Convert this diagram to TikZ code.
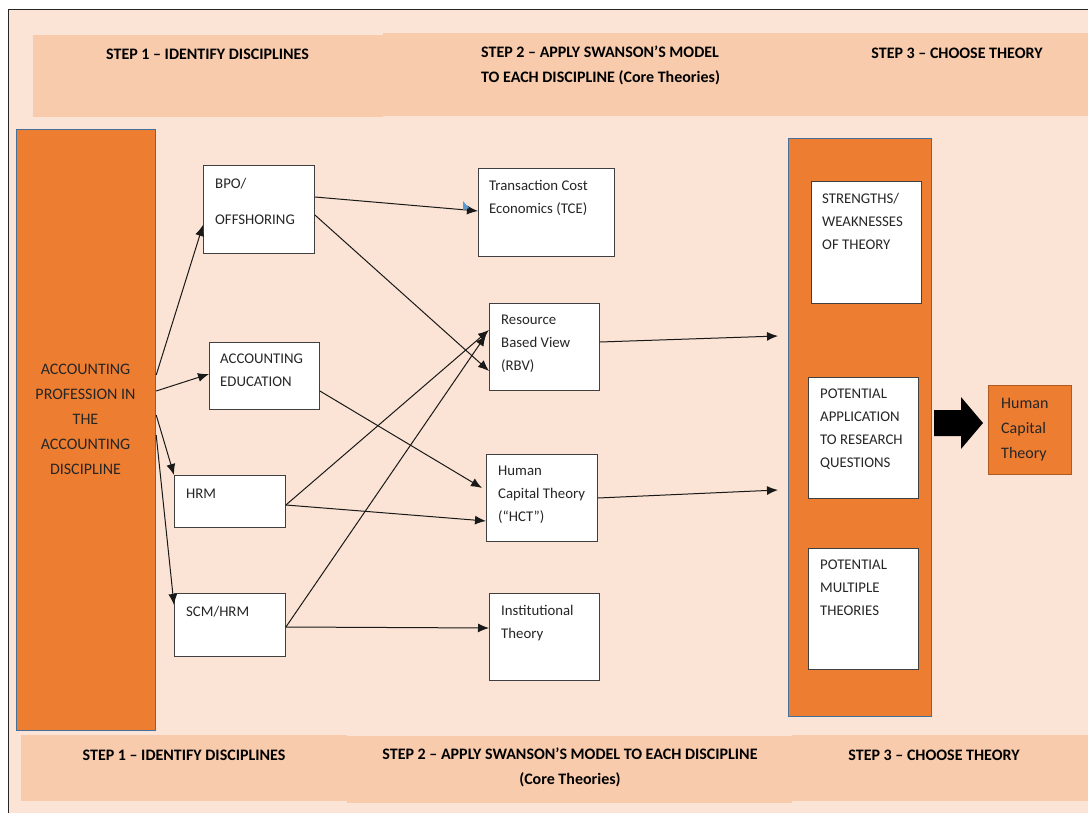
\documentclass[tikz,border=0pt]{standalone}
\usepackage{fontspec}
\setmainfont{Carlito}
\usetikzlibrary{arrows.meta,calc}
\definecolor{pagebg}{HTML}{FBE4D5}
\definecolor{band}{HTML}{F8CBAD}
\definecolor{accorange}{HTML}{ED7D31}
\definecolor{steelblue}{HTML}{41719C}
\definecolor{rust}{HTML}{AE5A21}
\definecolor{boxline}{HTML}{404040}
\definecolor{skyblue}{HTML}{5B9BD5}

\begin{document}
\begin{tikzpicture}[x=1pt,y=-1pt,
  wbox/.style={draw=boxline, line width=0.9pt, fill=white, rectangle, inner sep=0pt, anchor=north west},
  obox/.style={draw=steelblue, line width=1.2pt, fill=accorange, rectangle, inner sep=0pt, anchor=north west},
  txt/.style={font=\fontsize{14.8}{23}\selectfont, text=black!85, align=left, inner sep=0pt, anchor=north west,
    execute at begin node=\rule{0pt}{11pt}},
  bigtxt/.style={font=\fontsize{16}{25}\selectfont, text=black!85, inner sep=0pt, anchor=north,
    execute at begin node=\rule{0pt}{12pt}},
  head/.style={font=\bfseries\fontsize{16}{25}\selectfont, inner sep=0pt, anchor=north,
    execute at begin node=\rule{0pt}{12pt}},
  arr/.style={-{Latex[length=11pt,width=9pt]}, line width=1pt, draw=black!90},
]
\useasboundingbox (0,0) rectangle (1088,813);
\clip (0,0) rectangle (1088,813);

% page frame and step bands
\draw[fill=pagebg, draw=black!85, line width=1pt] (8,10) rectangle (1100,830);
\fill[band] (33,35) rectangle (383,117);
\fill[band] (383,33.5) rectangle (1088,116);
\fill[band] (21,735) rectangle (347,801);
\fill[band] (347,736) rectangle (792,803);
\fill[band] (792,735) rectangle (1088,801);

\node[head] (h1) at (207.5,47) {STEP 1 – IDENTIFY DISCIPLINES};
\node[head, anchor=north west, align=left] (h2) at (481,46)
  {STEP 2 – APPLY SWANSON’S MODEL\\TO EACH DISCIPLINE (Core Theories)};
\node[head] (h3) at (957,46) {STEP 3 – CHOOSE THEORY};

\node[head] (f1) at (184,748) {STEP 1 – IDENTIFY DISCIPLINES};
\node[head, align=center] (f2) at (570,748)
  {STEP 2 – APPLY SWANSON’S MODEL TO EACH DISCIPLINE\\(Core Theories)};
\node[head] (f3) at (934,748) {STEP 3 – CHOOSE THEORY};

% discipline column
\node[obox, minimum width=139pt, minimum height=601pt] (acc) at (16,129) {};
\node[bigtxt, align=center] (acct) at (85.5,364)
  {ACCOUNTING\\PROFESSION IN\\THE\\ACCOUNTING\\DISCIPLINE};

\node[wbox, minimum width=111pt, minimum height=88pt] (bpo) at (203,165) {};
\node[txt] (bpot) at (215,178) {BPO/\\[13pt]OFFSHORING};
\node[wbox, minimum width=110pt, minimum height=67pt] (edu) at (209,342) {};
\node[txt] (edut) at (220,354) {ACCOUNTING\\EDUCATION};
\node[wbox, minimum width=111pt, minimum height=52pt] (hrm) at (174,475) {};
\node[txt] (hrmt) at (186,487) {HRM};
\node[wbox, minimum width=111pt, minimum height=63pt] (scm) at (174,593) {};
\node[txt] (scmt) at (186,605) {SCM/HRM};

% core theories
\node[wbox, minimum width=136pt, minimum height=88pt] (tce) at (478,168) {};
\node[txt] (tcet) at (489,180) {Transaction Cost\\Economics (TCE)};
\node[wbox, minimum width=110pt, minimum height=87pt] (rbv) at (489,303) {};
\node[txt] (rbvt) at (501,315) {Resource\\Based View\\(RBV)};
\node[wbox, minimum width=111pt, minimum height=87pt] (hct) at (486,454) {};
\node[txt] (hctt) at (498,466) {Human\\Capital Theory\\(“HCT”)};
\node[wbox, minimum width=110pt, minimum height=87pt] (inst) at (489,593) {};
\node[txt] (instt) at (501,605) {Institutional\\Theory};

% theory choice column
\node[obox, minimum width=143pt, minimum height=578pt] (col) at (788,138) {};
\node[wbox, minimum width=110pt, minimum height=122pt] (sw) at (811,181) {};
\node[txt] (swt) at (822,193) {STRENGTHS/\\WEAKNESSES\\OF THEORY};
\node[wbox, minimum width=110pt, minimum height=121pt] (app) at (808,377) {};
\node[txt] (appt) at (820,389) {POTENTIAL\\APPLICATION\\TO RESEARCH\\QUESTIONS};
\node[wbox, minimum width=110pt, minimum height=121pt] (mult) at (808,548) {};
\node[txt] (multt) at (820,560) {POTENTIAL\\MULTIPLE\\THEORIES};

\node[obox, draw=rust, line width=1pt, minimum width=83pt, minimum height=89pt] (res) at (988,385) {};
\node[bigtxt, anchor=north west, align=left] (rest) at (1001,398) {Human\\Capital\\Theory};

% block arrow to the chosen theory
\fill[black] (934,410) -- (961,410) -- (961,397) -- (983,423) -- (961,449)
  -- (961,436) -- (934,436) -- cycle;

% disciplines
\draw[arr] ([yshift=-246pt]acc.north east) -- ([yshift=-60pt]bpo.north west);
\draw[arr] ([yshift=-262pt]acc.north east) -- ([yshift=-32pt]edu.north west);
\draw[arr] ([yshift=-286pt]acc.north east) -- (hrm.north west);
\draw[arr] ([yshift=-306pt]acc.north east) -- ([yshift=-12pt]scm.north west);

% disciplines to core theories
\draw[arr] ([yshift=-32pt]bpo.north east) -- ([yshift=-43pt]tce.north west);
\fill[skyblue] (463,201) -- (469,208) -- (463,210) -- cycle;
\draw[arr] ([yshift=-50pt]bpo.north east) -- ([yshift=-68pt]rbv.north west);
\draw[arr] ([yshift=-49pt]edu.north east) -- ([xshift=-4pt,yshift=-34pt]hct.north west);
\draw[arr] ([yshift=-30pt]hrm.north east) -- ([yshift=-27pt]rbv.north west);
\draw[arr] ([yshift=-30pt]hrm.north east) -- ([yshift=-67pt]hct.north west);
\draw[arr] ([yshift=-34pt]scm.north east) -- ([xshift=-3pt,yshift=-32pt]rbv.north west);
\draw[arr] ([yshift=-34pt]scm.north east) -- ([yshift=-35pt]inst.north west);

% core theories to theory choice
\draw[arr] ([yshift=-39pt]rbv.north east) -- ([xshift=-10pt,yshift=-198pt]col.north west);
\draw[arr] ([yshift=-44pt]hct.north east) -- ([xshift=-10pt,yshift=-352pt]col.north west);
\end{tikzpicture}
\end{document}
